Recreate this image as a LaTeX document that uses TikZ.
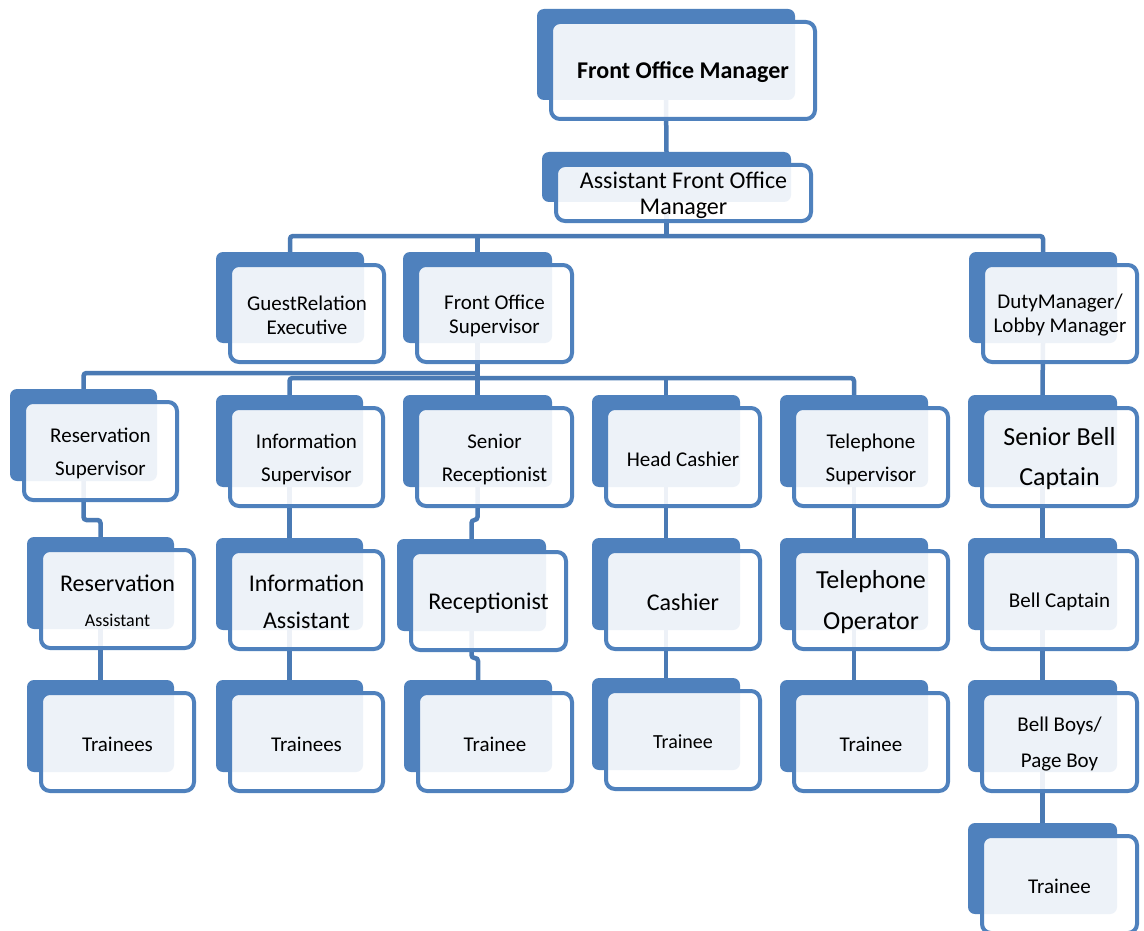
\documentclass[tikz,border=0pt]{standalone}
\usepackage{fontspec}
\setmainfont{Carlito}
\pgfdeclarelayer{paper}
\pgfdeclarelayer{bg}
\pgfsetlayers{paper,bg,main}
\definecolor{boxblue}{RGB}{79,129,189}
\definecolor{lineblue}{RGB}{74,122,180}
\tikzset{
  backbox/.style={fill=boxblue, rounded corners=7pt, inner sep=0pt, outer sep=0pt, draw=none},
  frontbox/.style={draw=boxblue, line width=4pt, fill=white, fill opacity=0.9, text opacity=1,
    draw opacity=1, rounded corners=9pt, inner sep=0pt, outer sep=0pt},
  boxtext/.style={align=center, text=black, inner sep=0pt},
  conn/.style={draw=lineblue, line width=4.5pt, rounded corners=3pt},
}
% #1 name, #2 x1, #3 y1, #4 x2, #5 y2 (back rectangle), #6 font, #7 text
\newcommand\orgbox[7]{%
  \node[backbox, minimum width={(#4-#2)*1pt}, minimum height={(#5-#3)*1pt}] (#1b) at ({(#2+#4)/2},{(#3+#5)/2}) {};
  \node[frontbox, minimum width={(#4-#2+6)*1pt}, minimum height={(#5-#3+6)*1pt}] (#1) at ({(#2+#4)/2+17},{(#3+#5)/2+16}) {};
  \node[boxtext, font={#6}] (#1t) at ([yshift=-2pt]#1.center) {#7};
}
\newcommand\fs[2]{\fontsize{#1}{#2}\selectfont}
\begin{document}
\begin{tikzpicture}[x=1pt,y=-1pt]
\useasboundingbox (0,0) rectangle (1144,931);
\begin{pgfonlayer}{paper}
  \fill[white] (0,0) rectangle (1144,931);
\end{pgfonlayer}

\orgbox{fom}{537}{9}{795}{100}{\fs{24}{28}\bfseries}{Front Office Manager}
\orgbox{afom}{542}{152}{791}{202}{\fs{24}{26}}{Assistant Front Office\\Manager}

\orgbox{gre}{216}{252}{364}{343}{\fs{21}{24}}{GuestRelation\\Executive}
\orgbox{fos}{403}{252}{552}{343}{\fs{21}{24}}{Front Office\\Supervisor}
\orgbox{dm}{969}{252}{1117}{343}{\fs{21}{24}}{DutyManager/\\Lobby Manager}

\orgbox{rs}{10}{389}{157}{481}{\fs{21}{33}}{Reservation\\Supervisor}
\orgbox{is}{216}{395}{363}{487}{\fs{21}{33}}{Information\\Supervisor}
\orgbox{sr}{403}{395}{552}{487}{\fs{21}{33}}{Senior\\Receptionist}
\orgbox{hc}{592}{395}{740}{487}{\fs{21}{25}}{Head Cashier}
\orgbox{ts}{780}{395}{928}{487}{\fs{21}{33}}{Telephone\\Supervisor}
\orgbox{sbc}{968}{395}{1117}{487}{\fs{26}{40}}{Senior Bell\\Captain}

\orgbox{ra}{27}{537}{174}{629}{\fs{24}{35}}{Reservation\\{\fs{18}{35}Assistant}}
\orgbox{ia}{216}{538}{363}{630}{\fs{24}{37}}{Information\\Assistant}
\orgbox{rec}{397}{539}{546}{631}{\fs{24}{28}}{Receptionist}
\orgbox{cas}{592}{538}{740}{630}{\fs{24}{28}}{Cashier}
\orgbox{to}{780}{538}{928}{630}{\fs{26}{41}}{Telephone\\Operator}
\orgbox{bc}{968}{538}{1117}{630}{\fs{21}{25}}{Bell Captain}

\orgbox{ta}{27}{680}{174}{772}{\fs{21}{25}}{Trainees}
\orgbox{tb}{216}{680}{363}{772}{\fs{21}{25}}{Trainees}
\orgbox{tc}{404}{680}{552}{772}{\fs{21}{25}}{Trainee}
\orgbox{td}{592}{678}{740}{770}{\fs{20}{24}}{Trainee}
\orgbox{te}{780}{680}{928}{772}{\fs{21}{25}}{Trainee}
\orgbox{bb}{968}{680}{1117}{772}{\fs{21}{36}}{Bell Boys/\\Page Boy}
\orgbox{tf}{968}{823}{1117}{914}{\fs{21}{25}}{Trainee}

\coordinate (bus1) at (0,236);
\coordinate (bus2a) at (0,373);
\coordinate (bus2b) at (0,378);
\coordinate (jog1) at (0,520);
\coordinate (jog2) at (0,658);

\begin{pgfonlayer}{bg}
  \draw[conn] (fomb.south) -- (afomb.north);
  \draw[conn] (afomb.south) -- (afomb.south |- bus1);
  \draw[conn] (greb.north) -- (greb.north |- bus1) -- (dmb.north |- bus1) -- (dmb.north);
  \draw[conn] (fosb.north) -- (fosb.north |- bus1);

  \draw[conn] (fosb.south) -- (srb.north);
  \draw[conn] (rsb.north) -- (rsb.north |- bus2a) -- (fosb.south |- bus2a);
  \draw[conn] (isb.north) -- (isb.north |- bus2b) -- (tsb.north |- bus2b) -- (tsb.north);
  \draw[conn] (hcb.north) -- (hcb.north |- bus2b);
  \draw[conn] (dmb.south) -- (sbcb.north);

  \draw[conn] (rsb.south) -- (rsb.south |- jog1) -- (rab.north |- jog1) -- (rab.north);
  \draw[conn] (srb.south) -- (srb.south |- jog1) -- (recb.north |- jog1) -- (recb.north);
  \draw[conn] (isb.south) -- (iab.north);
  \draw[conn] (hcb.south) -- (casb.north);
  \draw[conn] (tsb.south) -- (tob.north);
  \draw[conn] (sbcb.south) -- (bcb.north);

  \draw[conn] (rab.south) -- (tab.north);
  \draw[conn] (iab.south) -- (tbb.north);
  \draw[conn] (recb.south) -- (recb.south |- jog2) -- (tcb.north |- jog2) -- (tcb.north);
  \draw[conn] (casb.south) -- (tdb.north);
  \draw[conn] (tob.south) -- (teb.north);
  \draw[conn] (bcb.south) -- (bbb.north);
  \draw[conn] (bbb.south) -- (tfb.north);
\end{pgfonlayer}
\end{tikzpicture}
\end{document}
